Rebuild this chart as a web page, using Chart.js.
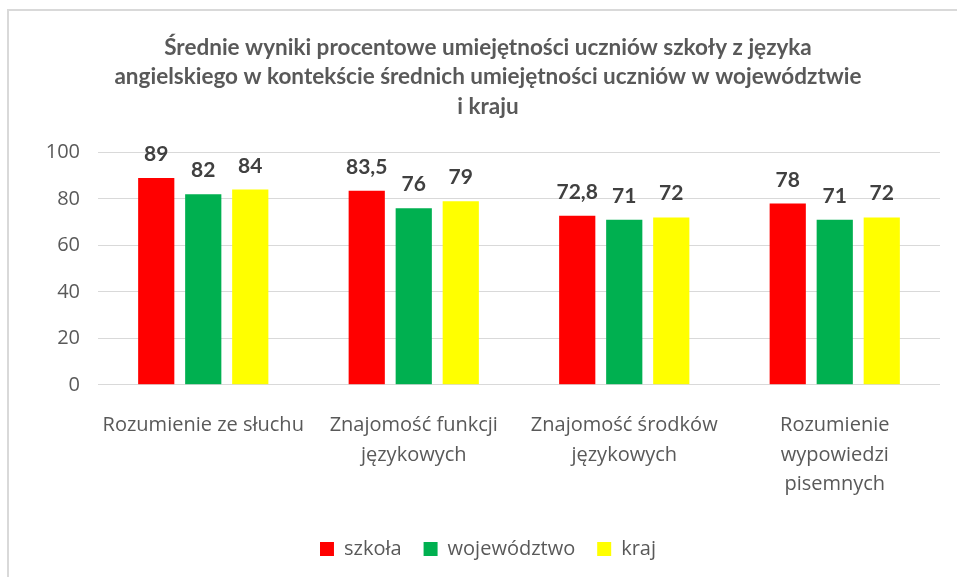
<!DOCTYPE html>
<html>
<head>
<meta charset="utf-8">
<script src="https://cdn.jsdelivr.net/npm/chart.js@4.4.1/dist/chart.umd.min.js"></script>
<style>
  html, body { margin: 0; padding: 0; background: #fff; }
  #wrap { position: relative; width: 957px; height: 577px; }
</style>
</head>
<body>
<div id="wrap"><canvas id="chart" width="957" height="577"></canvas></div>
<script>
// data
const categories = [
    "Rozumienie ze słuchu",
    ["Znajomość funkcji", "językowych"],
    ["Znajomość środków", "językowych"],
    ["Rozumienie", "wypowiedzi", "pisemnych"]
];
const szkola = [89, 83.5, 72.8, 78];
const wojewodztwo = [82, 76, 71, 71];
const kraj = [84, 79, 72, 72];
const yTicks = [0, 20, 40, 60, 80, 100];

const TITLE_FONT = "Lato, 'Open Sans', sans-serif";
const FONT = "'Open Sans', sans-serif";
const GREY = "#595959";

// values above the bars, polish decimal comma
const barLabels = {
    id: 'barLabels',
    afterDatasetsDraw(chart) {
        const ctx = chart.ctx;
        ctx.save();
        ctx.font = "bold 21px " + TITLE_FONT;
        ctx.fillStyle = "#404040";
        ctx.textAlign = "center";
        ctx.textBaseline = "alphabetic";
        chart.data.datasets.forEach((ds, i) => {
            chart.getDatasetMeta(i).data.forEach((bar, j) => {
                let txt = ds.data[j].toString().replace('.', ',');
                ctx.fillText(txt, bar.x, bar.y - 17);
            });
        });
        ctx.restore();
    }
};

// frame of the chart object (only left and top edges are visible)
const frame = {
    id: 'frame',
    beforeDraw(chart) {
        const ctx = chart.ctx;
        ctx.save();
        ctx.strokeStyle = "#d9d9d9";
        ctx.lineWidth = 2;
        ctx.beginPath();
        ctx.moveTo(8, 577);
        ctx.lineTo(8, 10);
        ctx.lineTo(957, 10);
        ctx.stroke();
        ctx.restore();
    }
};

new Chart(document.getElementById("chart"), {
    type: 'bar',
    data: {
        labels: categories,
        datasets: [
            { label: "szkoła", data: szkola, backgroundColor: "#ff0000" },
            { label: "województwo", data: wojewodztwo, backgroundColor: "#00b050" },
            { label: "kraj", data: kraj, backgroundColor: "#ffff00" }
        ]
    },
    options: {
        responsive: false,
        animation: false,
        categoryPercentage: 0.67,
        barPercentage: 0.77,
        layout: {
            padding: { left: 25, right: 6, top: 13, bottom: 8 }
        },
        scales: {
            x: {
                grid: { display: false },
                border: { display: false },
                ticks: {
                    color: GREY,
                    padding: 18,
                    maxRotation: 0,
                    font: { family: FONT, size: 20, lineHeight: 1.47 }
                }
            },
            y: {
                min: 0,
                max: 100,
                afterBuildTicks(axis) {
                    axis.ticks = yTicks.map(v => ({ value: v }));
                },
                afterFit(axis) {
                    axis.width = 73;
                },
                grid: { color: "#d9d9d9", lineWidth: 1, drawTicks: false },
                border: { display: false },
                ticks: {
                    color: GREY,
                    padding: 18,
                    font: { family: FONT, size: 20 }
                }
            },
            // empty right axis, keeps the plot off the right edge
            y2: {
                position: 'right',
                grid: { display: false },
                border: { display: false },
                ticks: { display: false },
                afterFit(axis) {
                    axis.width = 11;
                }
            }
        },
        plugins: {
            title: {
                display: true,
                text: [
                    "Średnie wyniki procentowe umiejętności uczniów szkoły z języka",
                    "angielskiego w kontekście średnich umiejętności uczniów w województwie",
                    "i kraju"
                ],
                color: GREY,
                font: { family: TITLE_FONT, size: 22.5, weight: 'bold', lineHeight: 1.31 },
                padding: { top: 20, bottom: 31 }
            },
            legend: {
                position: 'bottom',
                labels: {
                    color: GREY,
                    boxWidth: 14,
                    boxHeight: 14,
                    padding: 22,
                    font: { family: FONT, size: 20 }
                }
            },
            tooltip: { enabled: false }
        }
    },
    plugins: [frame, barLabels]
});
</script>
</body>
</html>
